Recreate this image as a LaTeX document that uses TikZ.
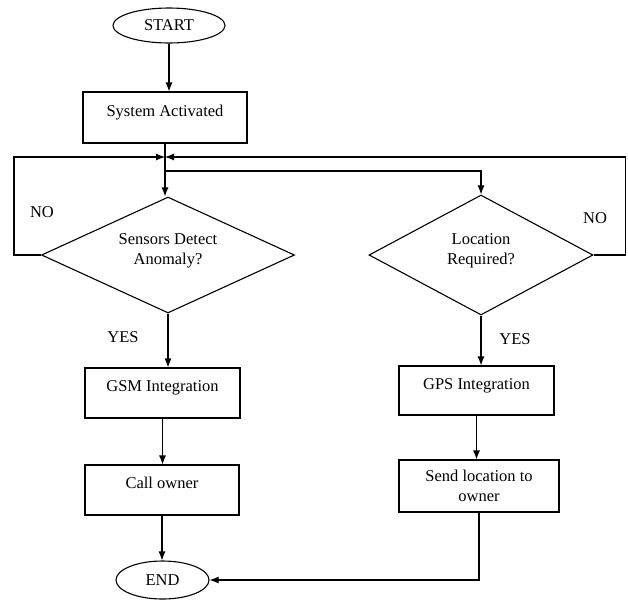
\documentclass[tikz,border=0pt]{standalone}
\usepackage{fontspec}
\setmainfont{Liberation Serif}
\usetikzlibrary{shapes.geometric}
\usetikzlibrary{arrows.meta}

\begin{document}
\begin{tikzpicture}[x=1pt, y=-1pt, line width=1.1pt,
  every node/.style={font=\fontsize{16.5}{19.5}\selectfont},
  term/.style={draw, ellipse, inner sep=0pt},
  proc/.style={draw, rectangle, inner sep=0pt, align=center},
  oneline/.style={proc, text height=11pt, text depth=14pt},
  test/.style={draw, diamond, aspect=2, inner sep=0pt, align=center, text depth=12pt},
  flow/.style={-{Latex[length=9pt,width=7pt]}}]
\useasboundingbox (0,0) rectangle (628,600);

% terminals and steps
\node[term, minimum width=112pt, minimum height=35pt] (start) at (169,25.5) {START};
\node[oneline, minimum width=164pt, minimum height=51pt] (sys) at (165,117.5) {System Activated};
\node[test, minimum width=253pt, minimum height=116pt] (det) at (168,255) {Sensors Detect\\Anomaly?};
\node[test, minimum width=224pt, minimum height=120pt] (loc) at (481,255) {Location\\Required?};
\node[oneline, minimum width=155pt, minimum height=50pt] (gsm) at (162.5,393) {GSM Integration};
\node[oneline, minimum width=154pt, minimum height=50pt] (call) at (162,490) {Call owner};
\node[term, minimum width=93pt, minimum height=38pt] (end) at (162.5,580) {END};
\node[oneline, minimum width=155pt, minimum height=49pt] (gps) at (476.5,390.5) {GPS Integration};
\node[proc, minimum width=160pt, minimum height=52pt] (send) at (479,486) {Send location to\\owner};

% branch labels
\node (noa) at (42,212) {NO};
\node (nob) at (595,218) {NO};
\node (yesa) at (123,337) {YES};
\node (yesb) at (515,339) {YES};

\coordinate (join) at (165,157);
\coordinate (fork) at (165,171);

% connectors
\draw[flow] (start.south) -- (start.south |- sys.north);
\draw[flow] (sys.south) -- (sys.south |- det.north);
\draw[flow] (det.west) -- ++(-27,0) |- (join);
\draw[flow] (loc.east) -- ++(32,0) |- (join);
\draw[flow] (fork) -| (loc.north);
\draw[flow] (det.south) -- (det.south |- gsm.north);
\draw[flow] (gsm.south) -- (gsm.south |- call.north);
\draw[flow] (call.south) -- (call.south |- end.north);
\draw[flow] (loc.south) -- (loc.south |- gps.north);
\draw[flow] (gps.south) -- (gps.south |- send.north);
\draw[flow] (send.south) |- (end.east);
\end{tikzpicture}
\end{document}
